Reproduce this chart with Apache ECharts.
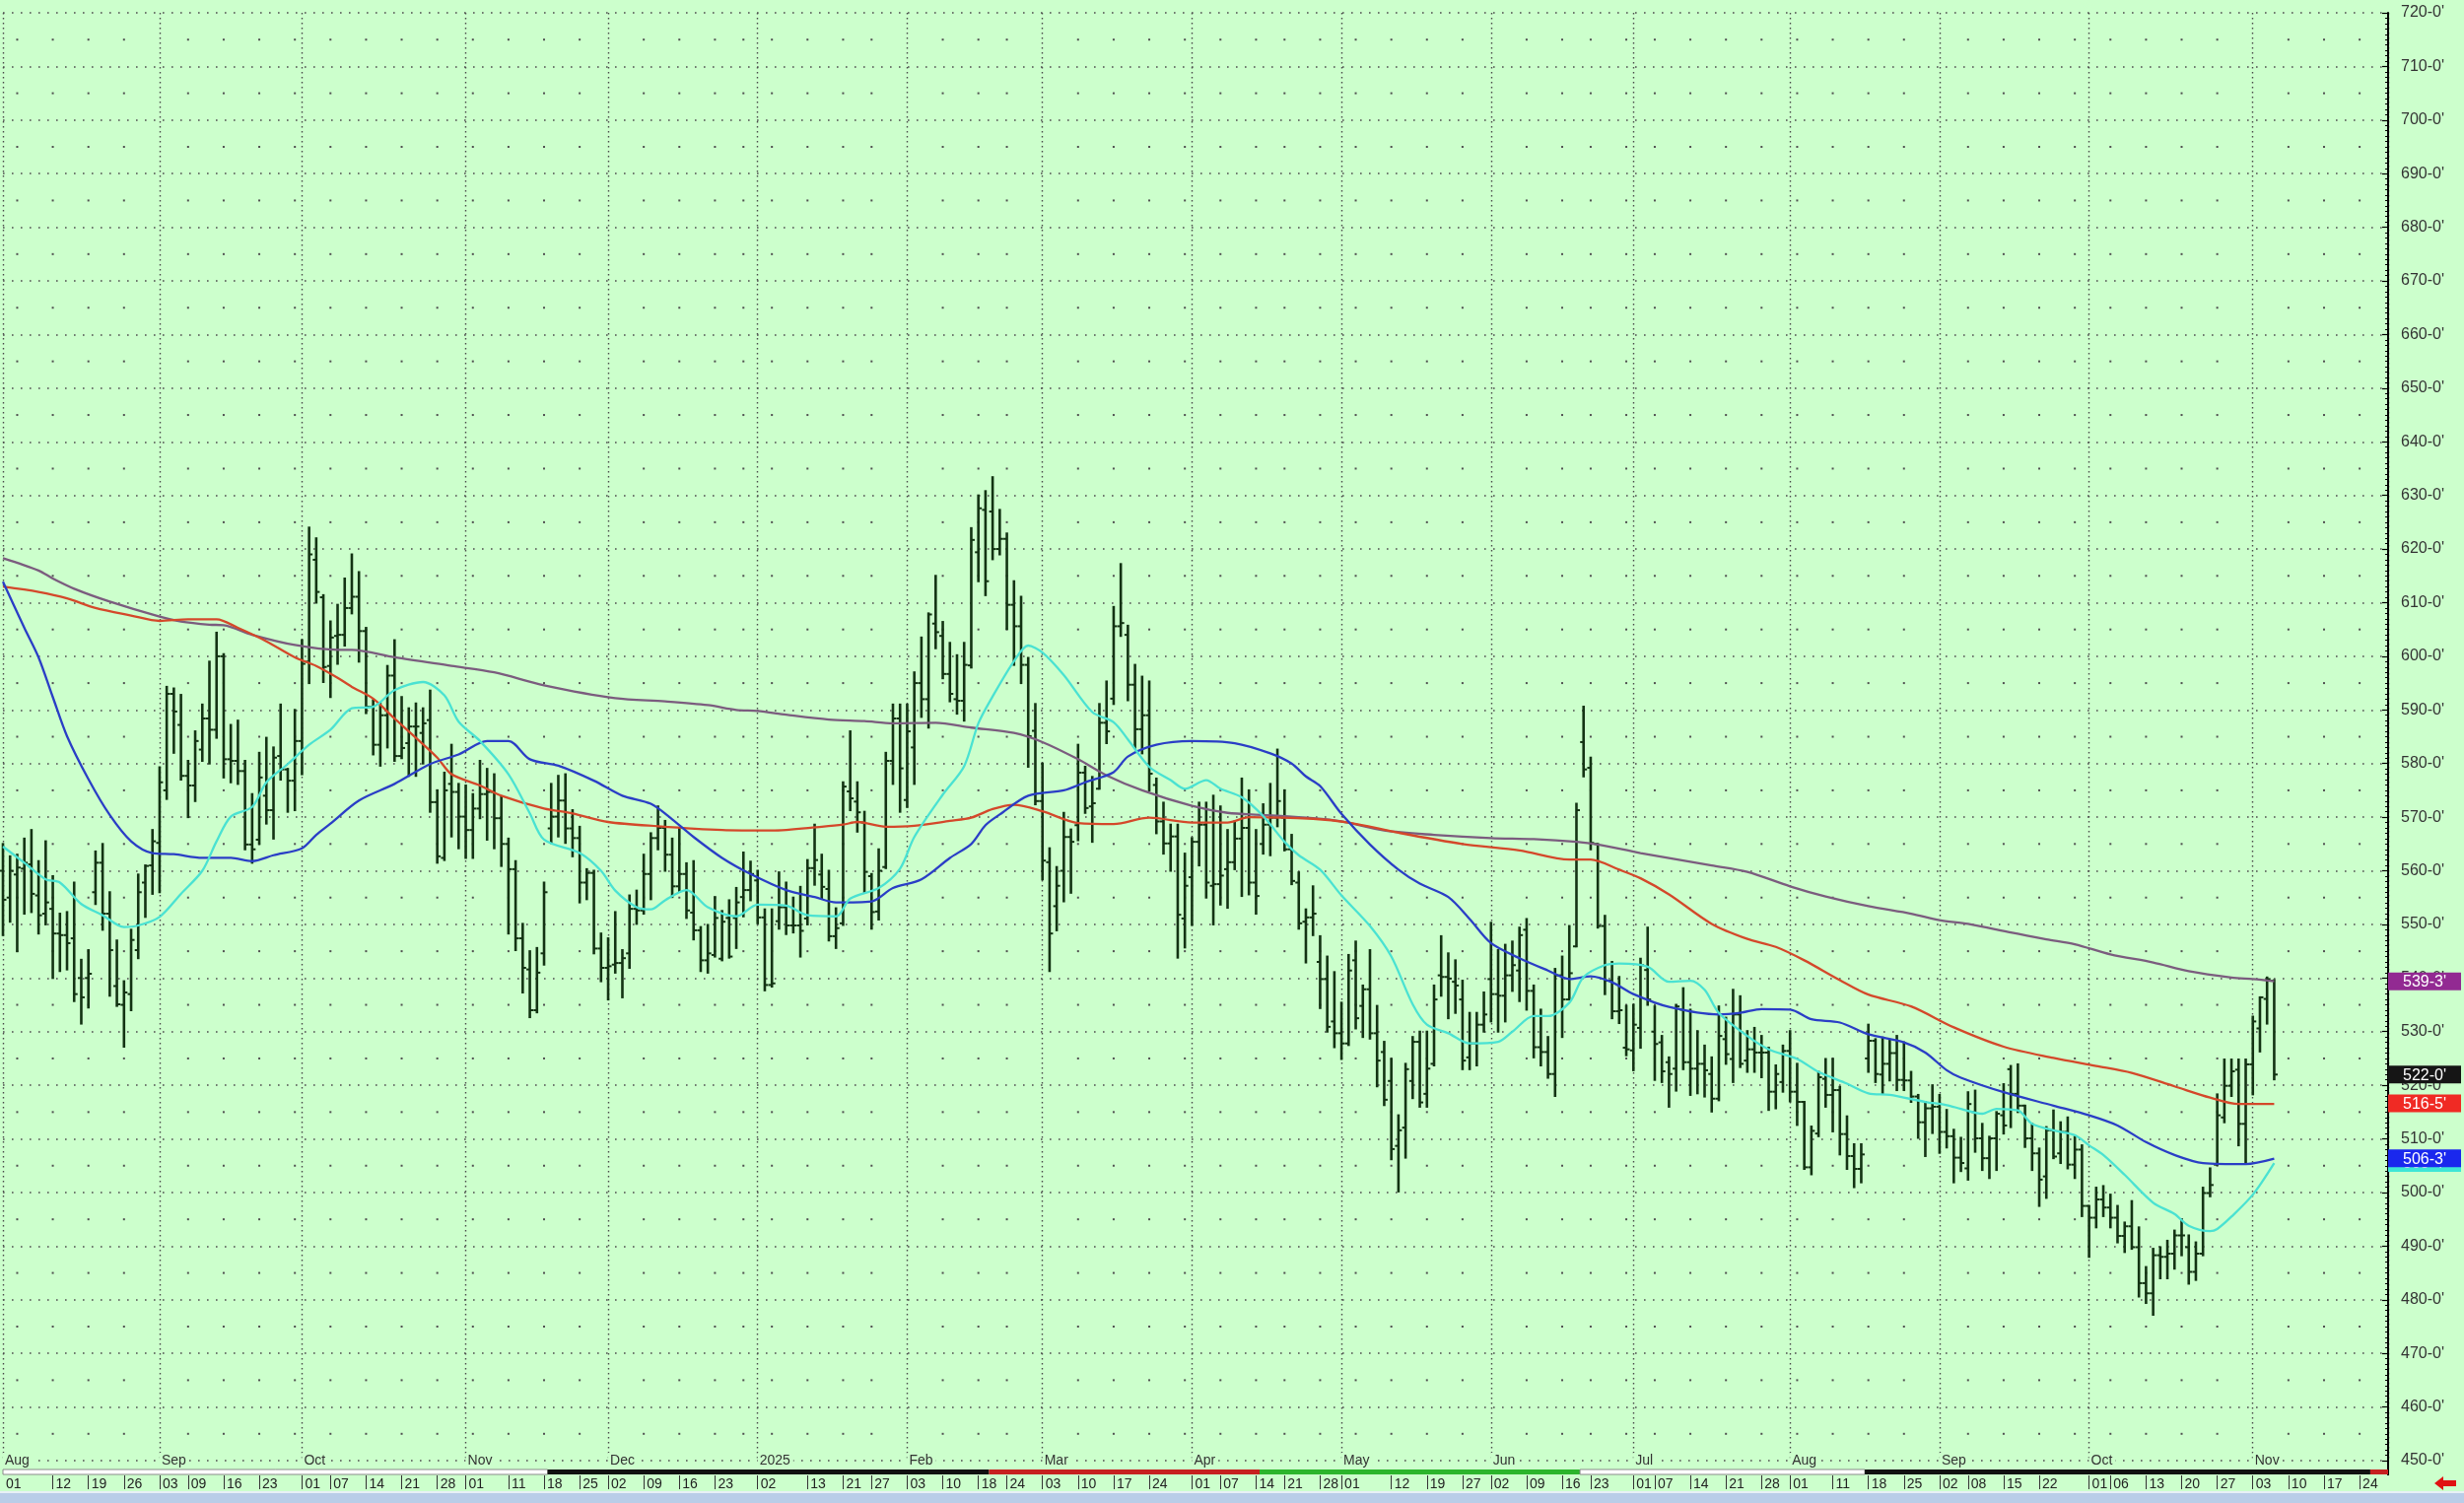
<!DOCTYPE html>
<html lang="en">
<head>
    <meta charset="UTF-8">
    <title>Daily bars</title>
    <script src="https://cdn.jsdelivr.net/npm/echarts@6.0.0/dist/echarts.min.js"></script>
    <style>
        html, body {
            margin: 0;
            padding: 0;
            background-color: #ccffcc;
        }
        #main {
            width: 2500px;
            height: 1525px;
        }
    </style>
</head>
<body>
<div id="main"></div>
<script type="text/javascript">
    // trading calendar
    var firstDay = '2024-08-01';
    var lastDay = '2025-12-01';
    var holidays = ['2024-09-02', '2024-11-28', '2024-12-25', '2025-01-01', '2025-01-20', '2025-02-17',
        '2025-04-18', '2025-05-26', '2025-06-19', '2025-07-04', '2025-09-01', '2025-11-27'];

    // day labels under the chart
    var dayTickDates = ['2024-08-01', '2024-08-12', '2024-08-19', '2024-08-26', '2024-09-03', '2024-09-09', '2024-09-16',
        '2024-09-23', '2024-10-01', '2024-10-07', '2024-10-14', '2024-10-21', '2024-10-28', '2024-11-01', '2024-11-11',
        '2024-11-18', '2024-11-25', '2024-12-02', '2024-12-09', '2024-12-16', '2024-12-23', '2025-01-02', '2025-01-13',
        '2025-01-21', '2025-01-27', '2025-02-03', '2025-02-10', '2025-02-18', '2025-02-24', '2025-03-03', '2025-03-10',
        '2025-03-17', '2025-03-24', '2025-04-01', '2025-04-07', '2025-04-14', '2025-04-21', '2025-04-28', '2025-05-01',
        '2025-05-12', '2025-05-19', '2025-05-27', '2025-06-02', '2025-06-09', '2025-06-16', '2025-06-23', '2025-07-01',
        '2025-07-07', '2025-07-14', '2025-07-21', '2025-07-28', '2025-08-01', '2025-08-11', '2025-08-18', '2025-08-25',
        '2025-09-02', '2025-09-08', '2025-09-15', '2025-09-22', '2025-10-01', '2025-10-06', '2025-10-13', '2025-10-20',
        '2025-10-27', '2025-11-03', '2025-11-10', '2025-11-17', '2025-11-24'];
    var monthNames = ['2025', 'Feb', 'Mar', 'Apr', 'May', 'Jun', 'Jul', 'Aug', 'Sep', 'Oct', 'Nov', 'Dec'];

    // daily bars [open, high, low, close]
    var barsAugOct2024 = [
        [560, 565, 548, 554.6], [555, 562.7, 550.5, 560], [559.3, 563, 545, 560.6], [560.4, 566, 552, 561.5],
        [561.2, 567.6, 552.3, 555.7], [555.4, 561.8, 548.3, 551.7], [552, 565.5, 550, 554.1], [552.9, 559, 540, 548.3],
        [548.3, 552, 541.3, 548], [548, 552.3, 541.6, 546.5], [547.4, 557.8, 535.7, 537], [540, 543.4, 531.5, 536.4],
        [540, 545.2, 534.5, 540.8], [556, 563.6, 553.8, 561.5], [561.5, 565, 549, 552], [552, 556, 536.7, 545.2],
        [538.5, 547, 534.8, 535.1], [535, 539.4, 527.2, 537.3], [537, 549, 534, 547.1], [545.2, 559.3, 543.7, 556],
        [557.8, 561, 551.4, 560.9], [561, 567.6, 555.7, 565.5],
        [565.2, 579.3, 556, 576.5], [575, 594.3, 573.4, 593], [593, 594, 582, 589.7], [587.2, 592.8, 577, 577.7],
        [577.7, 580.5, 570, 575.9], [575.9, 586, 573, 584.2], [582.6, 591, 580.5, 588.4], [588.4, 599, 580, 586.3],
        [586.3, 604.4, 584.8, 600], [600, 600.4, 577.4, 580.8], [580.8, 587.2, 576.5, 580.5], [580.5, 588, 576.2, 578.6],
        [578.6, 580.5, 564, 564.9], [564.9, 574.3, 561.5, 564], [565.8, 582, 565, 577.4], [574, 584.8, 568.8, 571.3],
        [571.3, 583, 566, 581.1], [581.4, 591, 577, 578.9], [578.9, 579, 571, 576.8], [576.8, 590, 571.3, 584.2],
        [584.2, 603, 578, 598.6], [599, 624, 595, 619], [618, 622, 610, 612], [611, 611.4, 595.2, 598],
        [598.2, 606.5, 592.4, 603.5], [603.8, 609.6, 598.6, 604], [604, 614.5, 602, 609], [609, 619, 608, 611.1],
        [611.1, 615.7, 599, 604.7], [604.7, 605.3, 589.4, 590.6], [590.6, 591.8, 581.7, 583.5], [583.5, 591.2, 579.6, 589],
        [589, 598.2, 583, 596.4], [596.4, 603, 580.5, 581.4], [581.4, 592.4, 581, 582.9], [583.8, 590.3, 577.7, 586.9],
        [586.9, 591.2, 577.7, 586.9], [585.7, 590.3, 580, 587.5], [588.1, 593.6, 571, 572.8], [572.8, 575, 561.5, 562.7],
        [562.4, 578.3, 562, 575], [576.2, 583.5, 566.4, 574.7], [574.7, 576.2, 564.2, 570.1]
    ];
    var barsNov2024Jan2025 = [
        [570.1, 575.9, 562.4, 567.6], [567.6, 574.3, 562.4, 571.6], [571.6, 580.5, 569.8, 574.3], [574.3, 579, 565.8, 574.7],
        [574.7, 578, 564.2, 569.8], [569.8, 573.7, 560.9, 565], [565, 566, 548.3, 560.3], [560.3, 561.8, 545.2, 547.4],
        [547.4, 550.1, 537.3, 541.9], [541.6, 545, 532.7, 534], [534, 545.6, 533.6, 541], [544.6, 557.8, 542.5, 556],
        [567.9, 576.2, 565.2, 570.1], [570.1, 577.7, 566.4, 573.1], [573.1, 578, 565.2, 567.9], [567.9, 571.3, 562.7, 566.1],
        [566.1, 568.2, 554.1, 557.8], [557.8, 560.3, 554.7, 559.6], [559.6, 560, 544.6, 545.5], [545.5, 548.3, 539.4, 541.9],
        [541.9, 547.4, 536, 542.2], [542.5, 552.3, 541, 542.8], [542.8, 545.2, 536.4, 543.7], [544.6, 555.4, 541.9, 552.9],
        [552.9, 556.3, 550.1, 552.6], [552.6, 563, 552, 559.4], [559.4, 567, 554.7, 566.1], [566.1, 572, 564, 568],
        [568, 569.3, 560, 563], [563, 566, 555.1, 557.1], [557.1, 568, 556.1, 559.4], [559.4, 561.4, 551.2, 552.6],
        [552.2, 561.8, 547.2, 548.9], [548.9, 549.5, 541.3, 543.3], [543.3, 549.9, 541, 544.6], [544.3, 555.1, 544, 551.2],
        [543.6, 552.5, 543.3, 550.5], [551.2, 554.5, 543.8, 544], [551.2, 556.8, 545.6, 554.1], [555.1, 563.4, 551.5, 556.4],
        [556.4, 561.7, 554.5, 559.4],
        [558.2, 560, 550.2, 551.3], [551.3, 552.8, 537.7, 538.7], [538.7, 552.8, 538.4, 539], [550.6, 559.7, 549.2, 553.2],
        [553.2, 557.8, 548.2, 549.8], [549.8, 555, 548.5, 549.8], [549.8, 557, 544, 548.8], [551.1, 562, 550, 560.5],
        [560.5, 568.6, 557.4, 562], [559.3, 563, 554.8, 557], [556.6, 560, 547, 547.8], [547.8, 553, 545.6, 549.3],
        [550.2, 576.5, 549.9, 575.7], [574.8, 586, 571.3, 573.5], [572.9, 576.5, 567.3, 570.9], [569, 571, 556, 559.8],
        [559, 559.4, 549.2, 552.3], [552.4, 564, 550.9, 560], [560.7, 582, 560.5, 580.5], [580.5, 591, 576.2, 588.4],
        [588.4, 591, 571, 579.1]
    ];
    var barsFebApr2025 = [
        [573.2, 591, 571.9, 586], [583, 597, 576.2, 595], [595, 603.5, 588.7, 592], [592, 608, 586.7, 607.8],
        [606.1, 615, 601.5, 604.5], [603.8, 606.4, 595.9, 596.7], [596.7, 602.5, 591.6, 593], [592, 600.2, 589.3, 591.7],
        [591.7, 602.5, 588, 598.4], [598.3, 623.9, 597.9, 621.7], [619.4, 630, 614, 627.6], [627.3, 630.8, 611.4, 614],
        [627, 633.4, 618.1, 620], [620, 627.3, 619, 621.9], [621.9, 622.9, 605.1, 609.6], [609.6, 614, 598.4, 605.6],
        [605.6, 611.1, 595, 598.4], [598.4, 599.7, 579.4, 585.1], [586.1, 591.1, 572.4, 573],
        [573, 580, 558.4, 561.9], [561.6, 564.2, 541.3, 548.3], [553.4, 560.7, 548.9, 557.2], [560, 570.8, 554.3, 566.3],
        [566.3, 567.7, 555.9, 565.4], [568.5, 583.5, 565.7, 578.3], [578.3, 579.4, 570.8, 571.7], [572, 577.5, 565.4, 572.6],
        [575.3, 591.1, 575.3, 587.6], [587.6, 595.3, 583.8, 586], [592.1, 609.2, 591.1, 605.6], [605.6, 617.2, 603.8, 606.2],
        [604, 605.7, 591.8, 594.7], [594.7, 598.4, 582.9, 586.4], [586.4, 596.2, 581.9, 589], [589, 595.3, 575, 578.1],
        [576, 577.2, 567, 569.2], [569.2, 572.7, 563.2, 565.1], [565.1, 568.6, 560, 566.4], [566.4, 568.6, 543.8, 551.8],
        [551.1, 563.2, 545.7, 557.2],
        [558.8, 566.1, 549.9, 565.4], [565.4, 572.7, 561, 568.6], [568.6, 572.7, 555, 557.8], [557.2, 574, 550, 557.5],
        [557.5, 572, 553.7, 559.1], [560.3, 567.6, 553.1, 561.6], [561.6, 569.2, 560.3, 566], [566, 577.2, 555.3, 568],
        [568, 575, 555.6, 557.8], [557.8, 567.6, 552, 555.3], [565, 572.4, 563.2, 568.6], [568.6, 576.2, 562.9, 569.9],
        [569.9, 582.6, 568.3, 573], [569.9, 575, 563.8, 564], [564, 566.7, 557.5, 558.1], [557.8, 559.7, 549.2, 550.2],
        [550.5, 552.8, 542.9, 551.3], [551.3, 557.1, 548, 552], [543, 547.8, 534.4, 539.8], [539.8, 544, 530, 530.9],
        [531.9, 541.1, 527.1, 529.7]
    ];
    var barsMayJul2025 = [
        [529.7, 535.4, 524.9, 527.8], [527.8, 544.3, 527.5, 541.4], [543.3, 546.8, 530.6, 532.5], [534.8, 538.6, 529, 537.9],
        [537.9, 545.2, 528.7, 529.7], [529.7, 534.8, 519.8, 524.6], [526.2, 528.1, 516.3, 517.3], [520.8, 524.9, 506.2, 508.1],
        [508.7, 514.4, 500.2, 511.6], [512.1, 524, 506.5, 523], [520.8, 529, 517.6, 528.1], [528.1, 530, 516, 516.8],
        [518.4, 530, 516, 523.1], [524, 538.6, 523.7, 536], [540.5, 547.8, 536.7, 540.2], [540.2, 544.6, 532.5, 539.9],
        [539.3, 543.3, 533.5, 538.6], [536, 539.5, 523, 524.6], [525.2, 533.5, 523, 527.8], [527.8, 533.5, 523.7, 531.3],
        [531.3, 537.3, 530, 533.2],
        [539.8, 550.3, 531.9, 537], [537, 545.2, 530, 536.7], [536.7, 546.2, 531.9, 540.5], [540.5, 546.8, 537.6, 542.4],
        [541.4, 549.4, 535.7, 548], [549, 551, 534.1, 537.6], [537.6, 538.6, 525.2, 527.1], [527.1, 534.1, 523.7, 526.2],
        [526.2, 529, 521.4, 522.1], [522.1, 541.7, 518, 540.5], [540.5, 544, 529, 536], [536, 549.7, 536, 540.9],
        [545.9, 572.5, 545.9, 571.3], [584, 590.6, 577.6, 578.9], [579.2, 581.1, 564, 565.2], [565, 565, 549.4, 549.7],
        [549.7, 551.6, 537, 539.5], [539.5, 543, 532.5, 533.8], [533.8, 540.2, 531.6, 534], [527, 534.8, 525.6, 526.7],
        [526.5, 535, 522.8, 531.3], [530.7, 543.6, 527, 542.4], [541.5, 549.4, 535, 536], [530, 534.7, 521, 527.7],
        [528, 529.2, 520.6, 522.6], [524.3, 525.2, 516, 522.1], [523.1, 535, 519, 534.7], [534.1, 538.1, 523, 524.3],
        [524.3, 534.1, 518.2, 523.1], [523.1, 530.1, 518.5, 524], [524, 527.4, 517.9, 522.8], [522.1, 525.2, 515.1, 517.5],
        [517.5, 534.7, 517.2, 529.2], [528.6, 532.6, 524, 525.8], [524.9, 537.8, 520.6, 533.2], [533.2, 536.6, 523.4, 524],
        [524.6, 530.1, 522.5, 526.7], [526.7, 530.7, 522.5, 526.1], [526.1, 529.2, 521.5, 526.1], [526.1, 527, 515.4, 518.8],
        [518.8, 523.7, 515.7, 522.1], [520.6, 527.4, 518.8, 526.4]
    ];
    var barsAugNov2025 = [
        [526.4, 530.1, 517, 518.8], [518.8, 524, 512.6, 516.9], [516.9, 516.9, 504.4, 504.7], [504.7, 512.3, 503.4, 511.5],
        [511, 522.5, 510.5, 521.5], [521.2, 524.9, 516, 518.2], [518.2, 524.9, 511.4, 519.1], [519.1, 519.7, 507.1, 510.9],
        [510.9, 514.2, 504.4, 506.8], [506.8, 509, 501, 504.4], [504.4, 509, 501.9, 507.1], [525, 531.3, 522.5, 528.3],
        [528.3, 528.6, 520.6, 522.1], [522, 528.9, 518.5, 524], [524, 528.3, 520.9, 526], [526, 529.2, 519.1, 521],
        [521, 528, 519.1, 520.9], [520.9, 522.5, 516.9, 517.9], [517.9, 518.2, 510.2, 513.1], [513.1, 516.9, 506.8, 515.7],
        [515.7, 520, 511.1, 516],
        [516, 518.2, 507.4, 511.3], [511.3, 515.4, 508.4, 510.5], [510.5, 511.7, 501.9, 506.5], [506.5, 510.2, 504, 505.5],
        [504.5, 518.7, 502.4, 516.5], [515, 519, 507.6, 510.1], [510.1, 512.8, 504.2, 506.4], [506.4, 510.4, 502.7, 510.1],
        [510.1, 515, 504.2, 514.7], [514.4, 520.2, 511, 512.5], [523, 523.6, 512.2, 518.4], [518.4, 523.9, 515, 516.2],
        [516.2, 516.2, 508.5, 510.1], [510.1, 512.8, 504.2, 507.3], [507.3, 508.2, 497.5, 502.4], [503, 512.2, 499, 511.6],
        [511.6, 515.3, 506.4, 506.7], [507.3, 513.1, 505.5, 511.3], [511.3, 514, 504.5, 505.2], [505.2, 510.4, 502.7, 508],
        [508, 508.8, 495.6, 497.5],
        [497.5, 497.5, 488, 495.3], [495.3, 500.9, 493.5, 498.7], [498.7, 501.2, 495.6, 497.2], [497.2, 499.6, 493.5, 495.3],
        [495.3, 497.5, 490.7, 491.9], [491.9, 494.4, 488.9, 493.7], [493.7, 498.4, 489.5, 489.8], [489.8, 493.5, 480.6, 483.1],
        [483.1, 486.1, 479.4, 481.2], [481.2, 489.5, 477.2, 488.3], [488.3, 489.8, 484, 488], [488, 491, 484, 488.6],
        [488.6, 492.9, 485.8, 492], [492, 495, 488.3, 492], [489.8, 492, 483, 485.2], [485.2, 490.7, 483.7, 488.6],
        [488.6, 500.9, 488.3, 499.9], [499.9, 504.5, 499.3, 501.4], [505.2, 518.3, 505.2, 514.4], [514, 524.8, 513.1, 519.9],
        [519.9, 524.8, 518, 522.6], [522.9, 524.8, 508.8, 512.8], [512.8, 524.8, 505.5, 523.9],
        [523.9, 532.8, 518.3, 531.9], [530.6, 536.4, 526.3, 536.4], [536.1, 540.1, 531.5, 539.8], [539.5, 539.6, 521.1, 522]
    ];

    // moving averages: [bar index, value]
    var maLong = [[0, 618.3], [5, 616], [7, 614.5], [10, 612.6], [15, 610.2], [22, 607.4], [25, 606.5], [29, 605.9],
        [31, 605.8], [35, 604], [41, 602.1], [47, 601.2], [49, 601.2], [55, 599.8], [63, 598.2], [69, 597], [76, 594.6],
        [86, 592.2], [93, 591.6], [99, 590.9], [103, 590], [106, 589.8], [110, 589.1], [116, 588.2], [121, 587.9],
        [125, 587.5], [131, 587.6], [136, 586.7], [142, 585.7], [146, 584], [151, 580.8], [155, 577.8], [160, 575],
        [167, 572.1], [172, 570.8], [177, 570.4], [184, 569.8], [188, 569.2], [194, 567.5], [201, 566.7], [209, 566.1],
        [215, 565.9], [221, 565.4], [224, 564.9], [230, 563.3], [240, 561], [245, 559.8], [251, 557.1], [256, 555.2],
        [262, 553.4], [268, 552], [272, 550.8], [276, 550.1], [282, 548.5], [287, 547.2], [291, 546.3], [296, 544.4],
        [302, 542.9], [307, 541.3], [313, 540.1], [316, 539.8], [319, 539.4]];
    var maMid = [[0, 613], [5, 612], [9, 610.8], [13, 609], [18, 607.6], [22, 606.6], [26, 606.9], [30, 606.9],
        [33, 605.3], [37, 602.8], [41, 599.8], [44, 598.2], [47, 596], [49, 594.3], [52, 592.1], [55, 588.4], [58, 584.8],
        [61, 581.1], [63, 578], [67, 575.9], [70, 574], [76, 571.6], [80, 570.7], [85, 569.1], [92, 568.3], [101, 567.6],
        [108, 567.5], [115, 568.2], [118, 568.6], [120, 569.1], [124, 568.2], [128, 568.4], [133, 569.3], [136, 569.9],
        [139, 571.5], [142, 572.3], [146, 571.1], [151, 568.9], [156, 568.7], [161, 569.9], [167, 569], [172, 569],
        [175, 570], [184, 569.7], [189, 569], [196, 567.1], [205, 565], [213, 563.8], [220, 562.1], [223, 562.1],
        [227, 560.2], [230, 558.6], [234, 555.6], [240, 550.1], [245, 547.3], [249, 545.8], [253, 543.3], [258, 539.6],
        [262, 536.9], [268, 534.7], [274, 530.8], [281, 527.2], [288, 525.1], [294, 523.6], [299, 522.3], [305, 519.8],
        [310, 517.7], [314, 516.5], [319, 516.5]];
    var maShort = [[0, 613.9], [3, 605.3], [5, 599.8], [7, 592.4], [9, 585.1], [12, 577.1], [15, 570.4], [18, 565.5],
        [21, 563.3], [24, 563.1], [28, 562.4], [32, 562.4], [35, 561.8], [38, 562.9], [42, 564.2], [44, 566.7],
        [46, 568.8], [50, 573.1], [55, 576.2], [60, 579.9], [64, 581.7], [68, 584.2], [71, 584.2], [74, 580.8],
        [78, 579.6], [83, 576.8], [87, 574], [91, 572.5], [94, 569.6], [97, 566.3], [101, 562.4], [105, 559.4],
        [110, 556.4], [114, 555.1], [117, 554.1], [122, 554.3], [125, 556.8], [129, 558.4], [133, 562.4], [136, 565],
        [138, 568.5], [140, 570.5], [144, 574], [149, 575], [152, 576.5], [156, 578.4], [158, 581.3], [162, 583.5],
        [167, 584.2], [173, 583.8], [178, 581.9], [181, 580], [183, 577.6], [185, 575.8], [188, 570.6], [192, 564.9],
        [196, 560.2], [199, 557.6], [203, 555.1], [206, 551], [209, 546.5], [213, 543.7], [217, 541.4], [220, 539.8],
        [223, 540.3], [226, 539.2], [229, 537], [234, 534.6], [241, 533.2], [244, 533.5], [247, 534.2], [251, 534.1],
        [254, 532.3], [258, 531.7], [262, 529.5], [267, 528], [270, 526.1], [273, 522.8], [275, 521.4], [281, 518.7],
        [288, 516.2], [293, 514.4], [297, 512.5], [301, 509.4], [305, 507], [309, 505.5], [315, 505.3], [319, 506.3]];
    var maFast = [[0, 564.5], [3, 561.5], [6, 558.4], [8, 557.8], [11, 553.8], [14, 551.7], [17, 549.5], [19, 549.8],
        [22, 551.4], [25, 555.7], [28, 560], [30, 565.5], [32, 570.1], [35, 571.9], [37, 576.5], [40, 579.9],
        [43, 583.5], [46, 586.3], [49, 590.3], [52, 590.6], [55, 593.7], [59, 595.2], [62, 592.7], [64, 587.8],
        [67, 584.2], [71, 578], [74, 570.7], [76, 565.8], [81, 563.3], [84, 560], [86, 556.3], [89, 553.2], [91, 552.8],
        [93, 554.5], [96, 556.4], [99, 553.2], [103, 551.5], [106, 553.7], [110, 553.5], [113, 551.7], [117, 551.5],
        [119, 554.8], [123, 556.8], [126, 560.4], [128, 566.3], [132, 574.2], [135, 579.5], [137, 587.5], [139, 592.5],
        [142, 599.1], [144, 602], [146, 600.7], [149, 596.5], [153, 589.6], [156, 587.7], [158, 584.5], [161, 579.4],
        [164, 576.9], [166, 575.3], [169, 576.9], [171, 575.3], [174, 573.7], [177, 570.2], [180, 565.4], [182, 562.9],
        [185, 560.2], [188, 555.4], [192, 549.7], [195, 544], [198, 535.1], [200, 531.3], [203, 529.7], [206, 527.8],
        [210, 528.1], [212, 530], [215, 532.9], [217, 532.9], [220, 535.4], [222, 540.2], [225, 542.4], [227, 542.7],
        [231, 542.1], [234, 539.3], [237, 539.5], [239, 537.8], [241, 533.5], [245, 529.2], [248, 526.7], [252, 524.9],
        [255, 522.5], [259, 520.3], [262, 518.5], [265, 518.2], [270, 516.9], [273, 516.3], [275, 515.6], [278, 514.7],
        [280, 515.6], [283, 515.3], [285, 512.8], [288, 511.6], [291, 510.7], [293, 508.8], [295, 507], [298, 503.3],
        [302, 498.1], [305, 496], [307, 493.8], [310, 492.8], [311, 493.2], [313, 495.5], [316, 499.6], [319, 505.5]];

    // last values shown on the price scale: fast MA, long MA, last close, mid MA, short MA
    var tagValues = [505.5, 539.375, 522, 516.625, 506.375];

    // nearby contract segments of the strip under the chart (bar index bounds)
    var rollBounds = [0, 76.5, 138.5, 176.5, 221.5, 261.5, 332.5, 335];

    // ---------------------------------------------------------------

    function isoDay(d) {
        return d.toISOString().slice(0, 10);
    }

    var dates = [];
    var cur = new Date(firstDay + 'T00:00:00Z');
    var stop = new Date(lastDay + 'T00:00:00Z');
    while (cur <= stop) {
        var wd = cur.getUTCDay();
        var s = isoDay(cur);
        if (wd !== 0 && wd !== 6 && holidays.indexOf(s) < 0) {
            dates.push(s);
        }
        cur.setUTCDate(cur.getUTCDate() + 1);
    }

    var monthStart = {};
    var weekCols = [];
    dates.forEach(function (ds, i) {
        if (i === 0 || ds.slice(0, 7) !== dates[i - 1].slice(0, 7)) {
            monthStart[i] = true;
        }
        if (i > 0) {
            var a = new Date(dates[i - 1] + 'T00:00:00Z');
            var b = new Date(ds + 'T00:00:00Z');
            var gap = (b - a) / 86400000;
            if ((b.getUTCDay() <= a.getUTCDay() || gap >= 7) && !monthStart[i]) {
                weekCols.push([i, 450]);
            }
        }
    });

    var dayTick = {};
    dayTickDates.forEach(function (ds) {
        dayTick[dates.indexOf(ds)] = true;
    });

    var allBars = [].concat(barsAugOct2024, barsNov2024Jan2025, barsFebApr2025, barsMayJul2025, barsAugNov2025);
    var barData = allBars.map(function (b, i) {
        return [i, b[0], b[1], b[2], b[3]];
    });

    function eighths(v) {
        var w = Math.floor(v);
        return w + '-' + Math.round((v - w) * 8) + "'";
    }

    var barColor = '#133313';

    function renderBar(params, api) {
        var i = api.value(0);
        var o = api.coord([i, api.value(1)]);
        var h = api.coord([i, api.value(2)]);
        var l = api.coord([i, api.value(3)]);
        var c = api.coord([i, api.value(4)]);
        return {
            type: 'group',
            children: [
                {type: 'line', shape: {x1: h[0], y1: h[1] - 1, x2: l[0], y2: l[1] + 1}, style: {stroke: barColor, lineWidth: 2.6}},
                {type: 'line', shape: {x1: o[0] - 3.5, y1: o[1], x2: o[0], y2: o[1]}, style: {stroke: barColor, lineWidth: 2}},
                {type: 'line', shape: {x1: c[0], y1: c[1], x2: c[0] + 3.5, y2: c[1]}, style: {stroke: barColor, lineWidth: 2}}
            ]
        };
    }

    var dotLevels = [];
    for (var lv = 455; lv < 720; lv += 10) {
        dotLevels.push(lv);
    }

    function renderDots(params, api) {
        var i = api.value(0);
        var kids = dotLevels.map(function (v) {
            var p = api.coord([i, v]);
            return {type: 'rect', shape: {x: p[0] - 1, y: p[1] - 1, width: 2, height: 2}, style: {fill: '#505050'}};
        });
        return {type: 'group', children: kids};
    }

    var rollFill = ['#ffffff', '#111111', '#c62020', '#2cb52c', '#ffffff', '#111111', '#c62020'];

    function xAt(api, v) {
        var f = Math.floor(v);
        var x0 = api.coord([f, 450])[0];
        if (v === f) return x0;
        var x1 = api.coord([f + 1, 450])[0];
        return x0 + (x1 - x0) * (v - f);
    }

    function renderRoll(params, api) {
        var k = params.dataIndex;
        var xa = xAt(api, rollBounds[k]);
        var xb = xAt(api, rollBounds[k + 1]);
        var y = api.coord([0, 450])[1] + 9;
        var kids = [{
            type: 'rect',
            shape: {x: xa, y: y, width: xb - xa, height: 5},
            style: {fill: rollFill[k], stroke: rollFill[k] === '#ffffff' ? '#8a8a8a' : null, lineWidth: 1}
        }];
        if (k === 0) {
            // price scale line runs down to the strip
            var xr = params.coordSys.x + params.coordSys.width;
            kids.push({type: 'line', shape: {x1: xr, y1: y - 9, x2: xr, y2: y + 6}, style: {stroke: '#000', lineWidth: 2}});
        }
        return {type: 'group', children: kids};
    }

    // value tags on the price scale
    var tagColors = ['#3ee6d6', '#922a92', '#151515', '#f02a24', '#1a28ee'];

    function renderTag(params, api) {
        var k = params.dataIndex;
        var v = api.value(1);
        var y = api.coord([0, v])[1];
        var x = params.coordSys.x + params.coordSys.width;
        return {
            type: 'group',
            children: [
                {type: 'rect', shape: {x: x, y: y - 9, width: 74, height: 18}, style: {fill: tagColors[k]}},
                {
                    type: 'text',
                    style: {
                        text: eighths(v),
                        x: x + 37,
                        y: y + 1,
                        align: 'center',
                        verticalAlign: 'middle',
                        fill: '#ffffff',
                        font: '16px "Liberation Sans", sans-serif'
                    }
                }
            ]
        };
    }

    function maSeries(data, color) {
        return {
            type: 'line',
            data: data,
            smooth: 0.3,
            symbol: 'none',
            showSymbol: false,
            lineStyle: {color: color, width: 2.3},
            z: 6,
            silent: true
        };
    }

    var myChart = echarts.init(document.getElementById('main'));

    var option = {
        animation: false,
        backgroundColor: '#ccffcc',
        textStyle: {fontFamily: 'Liberation Sans'},
        grid: {left: 0, right: 77, top: 13, bottom: 43},
        xAxis: [
            {
                type: 'category',
                data: dates,
                boundaryGap: false,
                position: 'bottom',
                offset: 15,
                axisLine: {show: false},
                axisTick: {
                    show: true,
                    interval: function (i) { return !!dayTick[i] && i > 0; },
                    length: 14,
                    lineStyle: {color: '#333', width: 1}
                },
                axisLabel: {
                    interval: function (i) { return !!dayTick[i]; },
                    formatter: function (v) { return v.slice(8, 10); },
                    align: 'left',
                    padding: [0, 0, 0, 3],
                    margin: 2,
                    fontSize: 14,
                    color: '#222'
                },
                splitLine: {show: false}
            },
            {
                type: 'category',
                data: dates,
                boundaryGap: false,
                position: 'bottom',
                offset: 0,
                axisLine: {show: false},
                axisTick: {show: false},
                axisLabel: {
                    interval: function (i) { return !!monthStart[i]; },
                    formatter: function (v) { return monthNames[(parseInt(v.slice(5, 7), 10) - 1)]; },
                    align: 'left',
                    verticalAlign: 'middle',
                    margin: 0,
                    padding: [1, 3, 1, 2],
                    backgroundColor: '#ccffcc',
                    fontSize: 14,
                    color: '#333',
                    showMaxLabel: false
                },
                splitLine: {
                    show: true,
                    interval: function (i) { return !!monthStart[i]; },
                    lineStyle: {color: '#4a4a4a', width: 1.4, type: [1.6, 3.4]}
                }
            }
        ],
        yAxis: {
            type: 'value',
            position: 'right',
            min: 450,
            max: 720,
            interval: 10,
            axisLine: {show: true, lineStyle: {color: '#000', width: 2}},
            axisTick: {show: true, inside: true, length: 6, lineStyle: {color: '#000', width: 1.2}},
            minorTick: {show: true, splitNumber: 10, length: 3, lineStyle: {color: '#000', width: 1}},
            axisLabel: {
                formatter: function (v) { return v + "-0'"; },
                margin: 13,
                fontSize: 16,
                color: '#333'
            },
            splitLine: {show: true, lineStyle: {color: '#4d4d4d', width: 1.5, type: [1.6, 7.4]}}
        },
        series: [
            {
                type: 'custom',
                renderItem: renderDots,
                data: weekCols,
                silent: true,
                z: 1
            },
            {
                type: 'custom',
                renderItem: renderRoll,
                data: rollBounds.slice(0, -1).map(function (b, k) { return [k, 450]; }),
                silent: true,
                clip: false,
                z: 2
            },
            {
                type: 'custom',
                renderItem: renderBar,
                data: barData,
                encode: {x: 0, y: [1, 2, 3, 4]},
                silent: true,
                z: 4
            },
            maSeries(maLong, '#7b5c7e'),
            maSeries(maMid, '#d4482a'),
            maSeries(maShort, '#2a3ec6'),
            maSeries(maFast, '#4ae2d2'),
            {
                type: 'custom',
                renderItem: renderTag,
                data: tagValues.map(function (v) { return [319, v]; }),
                encode: {x: 0, y: 1},
                silent: true,
                clip: false,
                z: 10
            }
        ],
        graphic: [
            {type: 'rect', left: 0, top: 1513, shape: {width: 2500, height: 2}, style: {fill: '#e8f0f6'}, silent: true},
            {type: 'rect', left: 0, top: 1515, shape: {width: 2500, height: 10}, style: {fill: '#b9cde8'}, silent: true},
            {
                type: 'polygon',
                shape: {points: [[2470, 1505], [2479, 1498], [2479, 1502], [2492, 1502], [2492, 1508], [2479, 1508], [2479, 1512]]},
                style: {fill: '#e01212'},
                silent: true
            }
        ]
    };

    myChart.setOption(option);
</script>
</body>
</html>
